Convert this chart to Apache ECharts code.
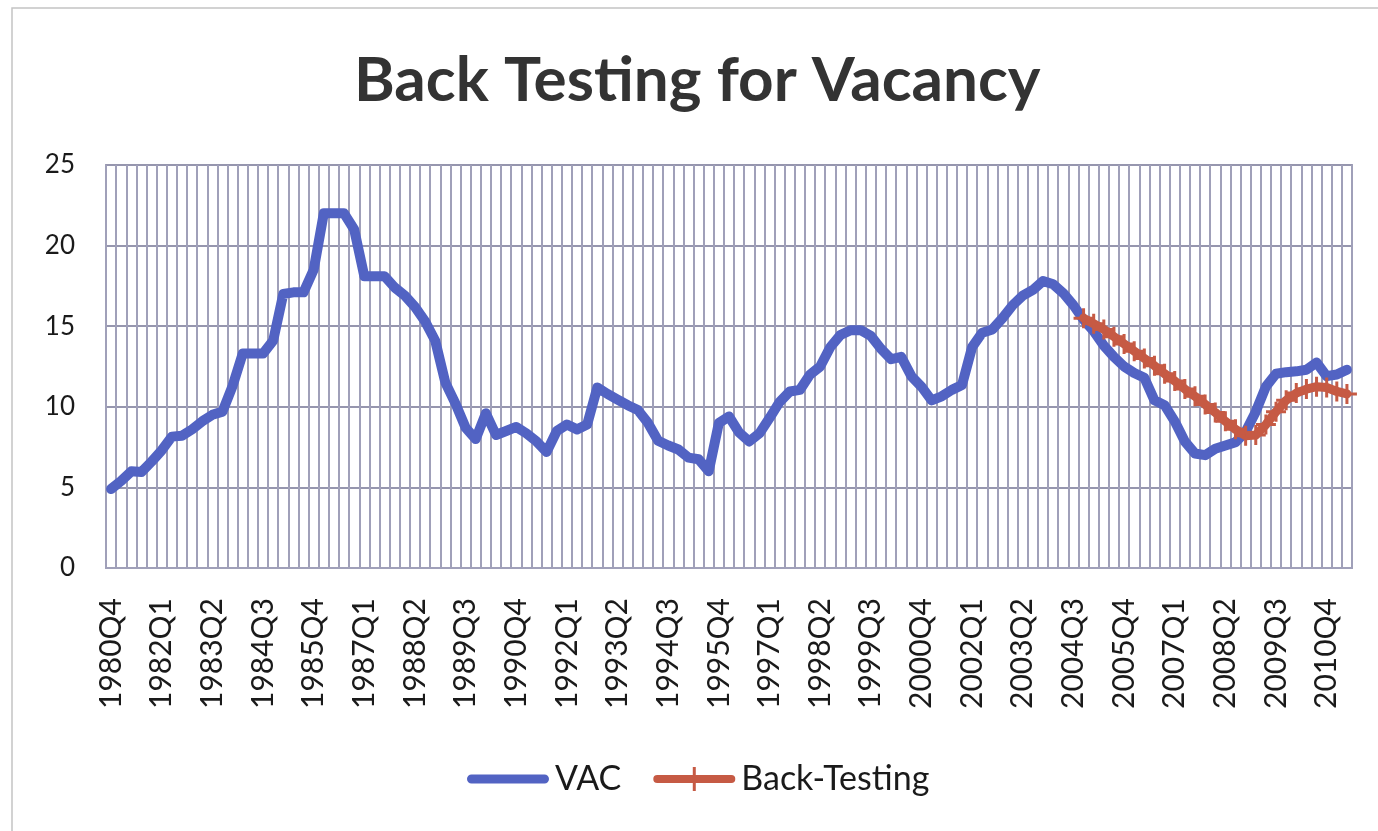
<!DOCTYPE html>
<html>
<head>
<meta charset="utf-8">
<script src="https://cdn.jsdelivr.net/npm/echarts@6/dist/echarts.min.js"></script>
<style>
html,body{margin:0;padding:0;background:#fff;}
#chart{width:1378px;height:831px;}
</style>
</head>
<body>
<div id="chart"></div>
<script>
// Category labels: quarters 1980Q4 .. 2011Q2
const startYear = 1980, startQuarter = 4, quarterCount = 123;
const categories = [];
for (let k = 0; k < quarterCount; k++) {
  const q = startQuarter - 1 + k;
  categories.push((startYear + Math.floor(q / 4)) + 'Q' + (q % 4 + 1));
}

const yTicks = [0, 5, 10, 15, 20, 25];

const vac = [
  4.9, 5.4, 6.0, 5.95, 6.6, 7.3, 8.15, 8.2, 8.6, 9.1,
  9.5, 9.7, 11.3, 13.3, 13.3, 13.3, 14.1, 17.0, 17.1, 17.1,
  18.5, 22.0, 22.0, 22.0, 21.0, 18.1, 18.1, 18.1, 17.4, 16.9,
  16.2, 15.3, 14.1, 11.5, 10.2, 8.7, 8.0, 9.6, 8.25, 8.5,
  8.75, 8.35, 7.85, 7.2, 8.5, 8.9, 8.6, 8.9, 11.2, 10.8,
  10.45, 10.1, 9.8, 9.0, 7.9, 7.6, 7.35, 6.85, 6.75, 6.0,
  9.0, 9.4, 8.4, 7.85, 8.35, 9.3, 10.3, 10.95, 11.05, 12.0,
  12.5, 13.7, 14.45, 14.75, 14.75, 14.4, 13.6, 12.95, 13.1, 11.9,
  11.25, 10.4, 10.65, 11.05, 11.35, 13.7, 14.6, 14.8, 15.5, 16.3,
  16.9, 17.25, 17.8, 17.6, 17.05, 16.3, 15.4, 14.7, 13.8, 13.1,
  12.5, 12.1, 11.8, 10.4, 10.1, 9.1, 7.85, 7.1, 7.0, 7.4,
  7.6, 7.8, 8.45, 9.7, 11.25, 12.05, 12.15, 12.2, 12.3, 12.75,
  11.9, 12.0, 12.3
];

// Back-testing starts at 2004Q4 (index 96)
const backTestStart = 96;
const backTestValues = [
  15.5, 15.15, 14.8, 14.35, 13.9, 13.45, 13.0, 12.55, 12.05, 11.6,
  11.1, 10.65, 10.15, 9.65, 9.1, 8.6, 8.2, 8.25, 8.9, 9.7,
  10.4, 10.85, 11.1, 11.25, 11.2, 10.95, 10.8
];
const backTest = categories.map((c, i) =>
  i >= backTestStart ? backTestValues[i - backTestStart] : null);

const FONT = 'Lato';
const BLUE = '#5263c3';
const RED = '#c65a44';
const gridColor = '#a0a0b9';
const plusPath = 'path://M8.5,0 L11.5,0 L11.5,8.5 L20,8.5 L20,11.5 L11.5,11.5 L11.5,20 L8.5,20 L8.5,11.5 L0,11.5 L0,8.5 L8.5,8.5 Z';
// legend icons (bar, and bar with plus tick), bounding box 82 x 24
const legendBar = 'path://M4.5,7.5 L77.5,7.5 A4.5,4.5 0 0 1 77.5,16.5 L4.5,16.5 A4.5,4.5 0 0 1 4.5,7.5 Z M0,0 L0.01,0 L0,0.01 Z M82,24 L81.99,24 L82,23.99 Z';
const legendBarPlus = 'path://M4,8 L39.5,8 L39.5,0 L42.5,0 L42.5,8 L78,8 A4,4 0 0 1 78,16 L42.5,16 L42.5,24 L39.5,24 L39.5,16 L4,16 A4,4 0 0 1 4,8 Z';

const chart = echarts.init(document.getElementById('chart'));
chart.setOption({
  backgroundColor: '#ffffff',
  animation: false,
  title: {
    text: 'Back Testing for Vacancy',
    left: 354,
    top: 50,
    padding: 0,
    textStyle: { fontFamily: FONT, fontWeight: 'bold', fontSize: 62, color: '#333333' }
  },
  graphic: [{
    type: 'rect',
    shape: { x: 12, y: 8, width: 1400, height: 840 },
    style: { fill: 'none', stroke: '#c4c4c4', lineWidth: 1.5 },
    silent: true
  }],
  legend: {
    top: 757,
    left: 462,
    itemWidth: 82,
    itemHeight: 24,
    itemGap: 32,
    textStyle: { fontFamily: FONT, fontSize: 34, color: '#1a1a1a', padding: [0, 0, 0, 1] },
    data: [
      { name: 'VAC', icon: legendBar },
      { name: 'Back-Testing', icon: legendBarPlus }
    ]
  },
  grid: {
    left: 106, right: 26, top: 165, bottom: 263,
    show: true, borderColor: gridColor, borderWidth: 2, containLabel: false
  },
  xAxis: {
    type: 'category',
    data: categories,
    boundaryGap: true,
    axisLine: { show: true, lineStyle: { color: gridColor, width: 2 } },
    axisTick: { show: false },
    axisLabel: {
      interval: 4, rotate: 90, margin: 30,
      fontFamily: FONT, fontSize: 30, color: '#1a1a1a'
    },
    splitLine: { show: true, interval: 0, lineStyle: { color: gridColor, width: 2 } }
  },
  yAxis: {
    type: 'value',
    min: yTicks[0], max: yTicks[yTicks.length - 1], interval: 5,
    axisLine: { show: false },
    axisTick: { show: false },
    axisLabel: { margin: 31, fontFamily: FONT, fontSize: 26, color: '#1a1a1a' },
    splitLine: { show: true, lineStyle: { color: '#9696ae', width: 2 } }
  },
  series: [{
    name: 'VAC',
    type: 'line',
    data: vac,
    symbol: 'none',
    lineStyle: { color: BLUE, width: 10, cap: 'round', join: 'round' },
    itemStyle: { color: BLUE },
    z: 2
  }, {
    name: 'Back-Testing',
    type: 'line',
    data: backTest,
    symbol: plusPath,
    symbolSize: 20,
    showSymbol: true,
    showAllSymbol: true,
    lineStyle: { color: RED, width: 9, cap: 'round', join: 'round' },
    itemStyle: { color: RED },
    z: 3
  }]
});
</script>
</body>
</html>
